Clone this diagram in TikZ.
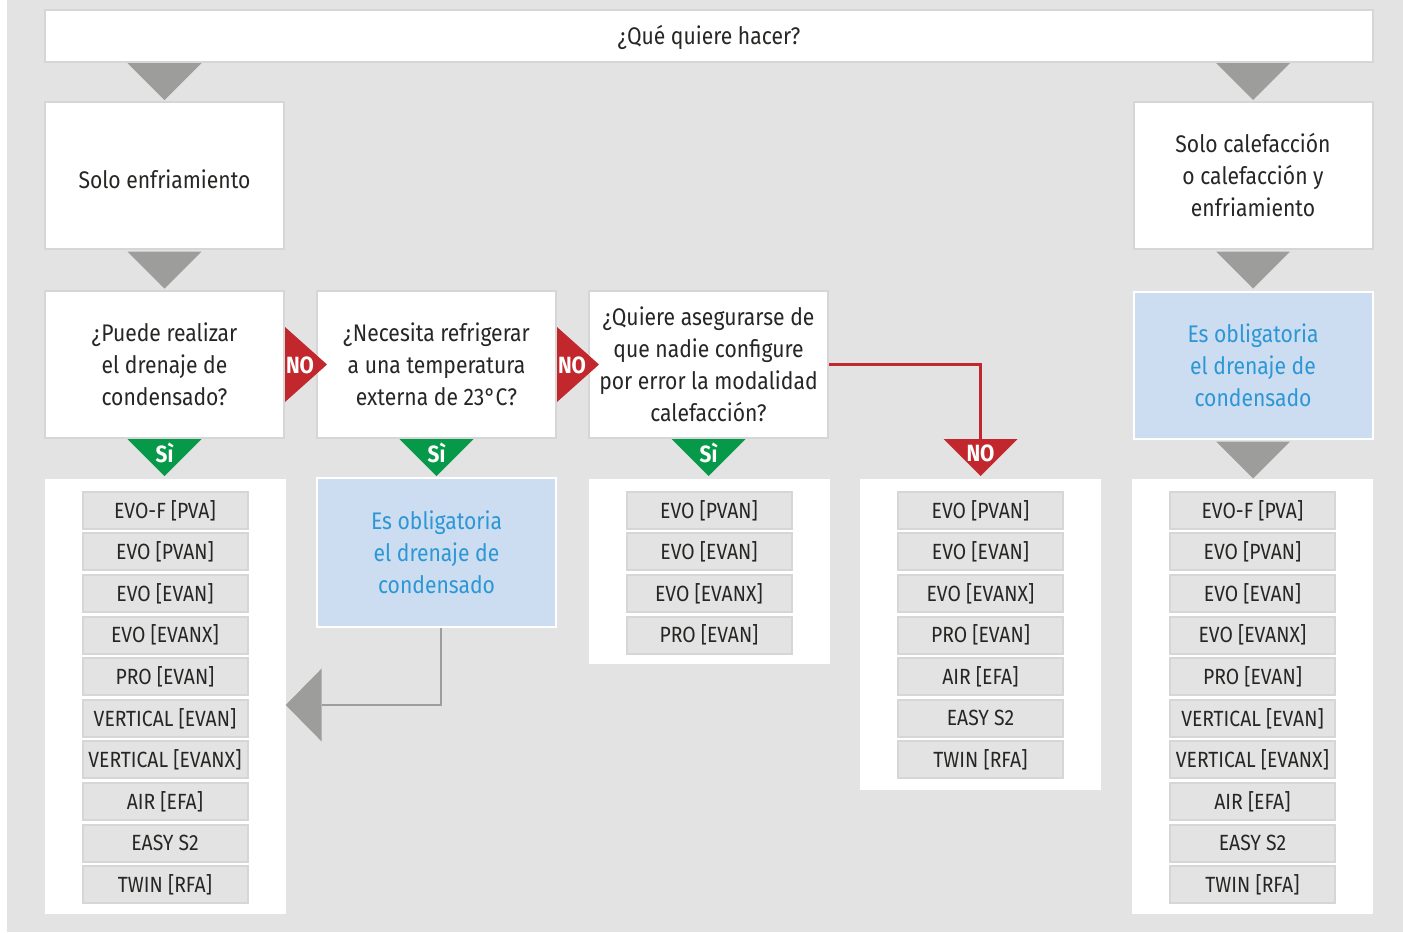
\documentclass[tikz,border=0pt]{standalone}
\usepackage{fontspec}
\setmainfont{Fira Sans}[FakeStretch=0.88]
\usetikzlibrary{calc,positioning}
\definecolor{PanelGray}{HTML}{E3E3E3}
\definecolor{EdgeGray}{HTML}{D6D6D6}
\definecolor{ArrowGray}{HTML}{9D9D9C}
\definecolor{NoRed}{HTML}{C1272D}
\definecolor{YesGreen}{HTML}{07994A}
\definecolor{NoteBlue}{HTML}{CCDDF2}
\definecolor{NoteText}{HTML}{2C97D4}
\definecolor{InkDark}{HTML}{262624}

% down-pointing flag: colour, centre of its top edge, label
\newcommand{\downflag}[3]{%
  \fill[#1] ($(#2)+(-37,0)$) -- ($(#2)+(37,0)$) -- ($(#2)+(0,37)$) -- cycle;
  \node[tag] at ($(#2)+(0,14)$) {#3};}
% right-pointing flag: centre of its left edge, label
\newcommand{\rightflag}[2]{%
  \fill[NoRed] ($(#1)+(0,-37.5)$) -- ($(#1)+(0,37.5)$) -- ($(#1)+(42,0)$) -- cycle;
  \node[tag] at ($(#1)+(15,1)$) {#2};}

\begin{document}
\begin{tikzpicture}[x=1pt,y=-1pt,
  question/.style={draw=EdgeGray,line width=2pt,fill=white,inner sep=0pt,
    minimum width=239pt,minimum height=147pt,align=center,text=InkDark,
    font=\fontsize{24}{32}\selectfont},
  note/.style={question,draw=white,fill=NoteBlue,text=NoteText},
  panel/.style={fill=white,inner sep=0pt,minimum width=241pt},
  item/.style={draw=EdgeGray,line width=2pt,fill=PanelGray,inner sep=0pt,
    minimum width=165pt,minimum height=37pt,text=InkDark,
    font=\fontsize{22}{26}\selectfont},
  tag/.style={text=white,font=\bfseries\fontsize{23.5}{24}\selectfont},
  link/.style={line width=2.5pt}
]
\useasboundingbox (0,0) rectangle (1403,932);
\fill[PanelGray] (7,0) rectangle (1403,932);

% top question
\node[question,minimum width=1328pt,minimum height=52pt] (top) at (709,36)
  {\raisebox{-8pt}[0pt][0pt]{¿Qué quiere hacer?}};

% first row
\node[question] (cool) at (164.5,175)
  {\raisebox{-13pt}[0pt][0pt]{Solo enfriamiento}};
\node[question] (heat) at (1253,175)
  {Solo calefacción\\o calefacción y\\enfriamiento};

% question row
\node[question] (q1) at (164.5,364.5)
  {¿Puede realizar\\el drenaje de\\condensado?};
\node[question] (q2) at (436.5,364.5)
  {¿Necesita refrigerar\\a una temperatura\\externa de 23°C?};
\node[question] (q3) at (708.5,364.5)
  {¿Quiere asegurarse de\\que nadie configure\\por error la modalidad\\calefacción?};
\node[note] (drainR) at (1253,365)
  {Es obligatoria\\el drenaje de\\condensado};

% result panels
\node[panel,minimum height=435pt] (p1) at (165,696.5) {};
\node[note,minimum height=149pt] (drainM) at (436.5,552.5)
  {Es obligatoria\\el drenaje de\\condensado};
\node[panel,minimum height=185pt] (p3) at (709,571.5) {};
\node[panel,minimum height=311pt] (p4) at (980.5,634.5) {};
\node[panel,minimum height=435pt] (p5) at (1252.5,696.5) {};

\foreach \txt [count=\i] in {EVO-F [PVA],EVO [PVAN],EVO [EVAN],EVO [EVANX],
    PRO [EVAN],VERTICAL [EVAN],VERTICAL [EVANX],AIR [EFA],EASY S2,TWIN [RFA]}{
  \node[item] (a\i) at ($(p1.north)+(0,{31.5+41.6*(\i-1)})$) {\txt};
  \node[item] (e\i) at ($(p5.north)+(0,{31.5+41.6*(\i-1)})$) {\txt};
}
\foreach \txt [count=\i] in {EVO [PVAN],EVO [EVAN],EVO [EVANX],PRO [EVAN]}
  \node[item] (c\i) at ($(p3.north)+(0,{31.5+41.6*(\i-1)})$) {\txt};
\foreach \txt [count=\i] in {EVO [PVAN],EVO [EVAN],EVO [EVANX],PRO [EVAN],
    AIR [EFA],EASY S2,TWIN [RFA]}
  \node[item] (d\i) at ($(p4.north)+(0,{31.5+41.6*(\i-1)})$) {\txt};

% grey flow
\downflag{ArrowGray}{top.south -| cool.north}{}
\downflag{ArrowGray}{top.south -| heat.north}{}
\downflag{ArrowGray}{$(cool.south)+(0,2)$}{}
\downflag{ArrowGray}{$(heat.south)+(0,2)$}{}
\downflag{ArrowGray}{$(drainR.south)+(0,2)$}{}

% answers
\rightflag{q1.east}{NO}
\rightflag{q2.east}{NO}
\downflag{YesGreen}{q1.south}{Sì}
\downflag{YesGreen}{q2.south}{Sì}
\downflag{YesGreen}{q3.south}{Sì}
\coordinate (noTop) at (q1.south -| p4.north);
\draw[link,NoRed] (q3.east) -| (noTop);
\downflag{NoRed}{noTop}{NO}

% back to the cooling list
\coordinate (bend) at ($(drainM.south)+(4.5,77)$);
\coordinate (tip) at (p1.east |- bend);
\draw[link,ArrowGray] ($(drainM.south)+(4.5,0)$) |- ($(tip)+(36,0)$);
\fill[ArrowGray] (tip) -- ($(tip)+(36,-36.5)$) -- ($(tip)+(36,36.5)$) -- cycle;
\end{tikzpicture}
\end{document}
